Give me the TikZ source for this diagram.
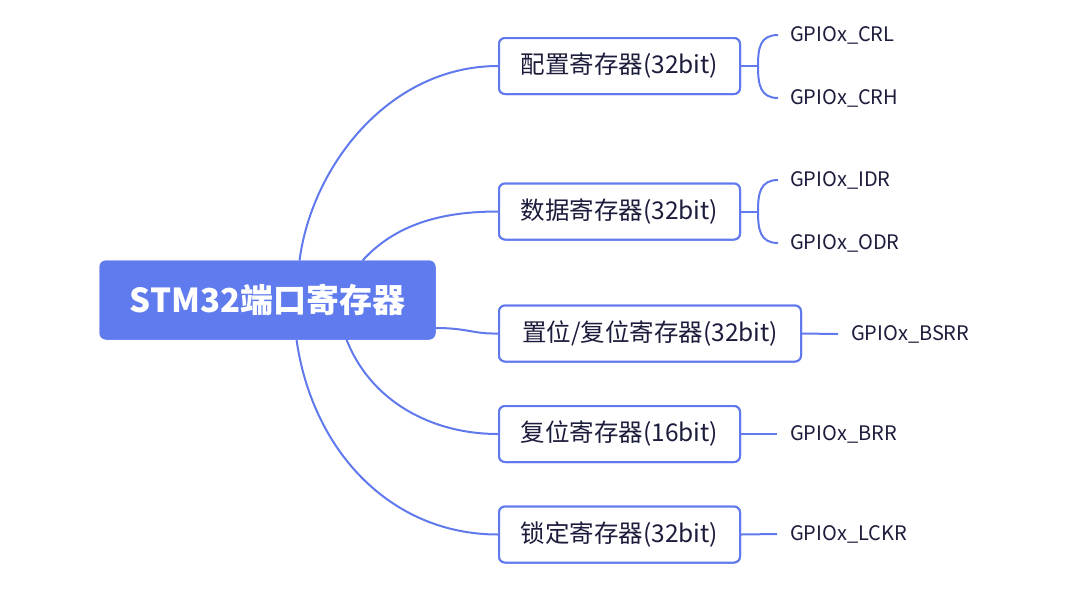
\documentclass[tikz,border=0pt]{standalone}
\usepackage{fontspec}
\setmainfont{Noto Sans CJK SC}
\usetikzlibrary{calc}
\definecolor{mainblue}{HTML}{5F7BEE}
\definecolor{linkblue}{HTML}{6079EC}
\definecolor{txt}{HTML}{1C1C3C}
\tikzset{
  mainbox/.style={draw=mainblue, fill=mainblue, rounded corners=6pt, line width=1pt,
    minimum width=335pt, minimum height=78pt, inner sep=0pt,
    text=white, font=\fontsize{33}{38}\selectfont\bfseries},
  subbox/.style={draw=linkblue, fill=white, rounded corners=6pt, line width=2pt,
    minimum width=241pt, minimum height=56pt, inner sep=0pt,
    text=txt, font=\fontsize{24.5}{28}\selectfont},
  leaf/.style={anchor=west, inner sep=0pt, text=txt, font=\fontsize{20}{23}\selectfont},
  link/.style={draw=linkblue, line width=2pt},
}
\begin{document}
\begin{tikzpicture}[x=1pt,y=-1pt]
\useasboundingbox (0,0) rectangle (1081,598);
% nodes
\node[mainbox] (main) at (267.5,300) {STM32端口寄存器};
\node[subbox] (b1) at (619.5,66) {配置寄存器(32bit)};
\node[subbox] (b2) at (619.5,211.5) {数据寄存器(32bit)};
\node[subbox, minimum width=302pt] (b3) at (650,333.5) {置位/复位寄存器(32bit)};
\node[subbox] (b4) at (619.5,434) {复位寄存器(16bit)};
\node[subbox] (b5) at (619.5,534.5) {锁定寄存器(32bit)};
\node[leaf] (l1a) at (790,35) {GPIOx\_CRL};
\node[leaf] (l1b) at (790,98) {GPIOx\_CRH};
\node[leaf] (l2a) at (790,180) {GPIOx\_IDR};
\node[leaf] (l2b) at (790,243) {GPIOx\_ODR};
\node[leaf] (l3) at (851,334) {GPIOx\_BSRR};
\node[leaf] (l4) at (790,434) {GPIOx\_BRR};
\node[leaf] (l5) at (790,534) {GPIOx\_LCKR};
% main connectors
\draw[link] ($(main.north west)+(200,0)$) .. controls (312,165) and (390,66) .. (b1.west);
\draw[link] ($(main.north west)+(263,0)$) .. controls (395,225) and (440,211.5) .. (b2.west);
\draw[link] ($(main.east)+(0,28)$) .. controls (468,328) and (472,334) .. (b3.west);
\draw[link] ($(main.south west)+(247,0)$) .. controls (370,400) and (430,434) .. (b4.west);
\draw[link] ($(main.south west)+(197,0)$) .. controls (312,450) and (390,534.5) .. (b5.west);
% redraw nodes on top
\node[mainbox] at (main) {STM32端口寄存器};
\node[subbox] at (b1) {配置寄存器(32bit)};
\node[subbox] at (b2) {数据寄存器(32bit)};
\node[subbox, minimum width=302pt] at (b3) {置位/复位寄存器(32bit)};
\node[subbox] at (b4) {复位寄存器(16bit)};
\node[subbox] at (b5) {锁定寄存器(32bit)};
% leaf connectors
\coordinate (k1) at ($(b1.east)+(17,0)$);
\draw[link] (b1.east) -- (k1);
\draw[link] ($(l1a.west)+(-12,0)$) .. controls ($(l1a.west)+(-30,0)$) and ($(k1)+(0,-18)$) .. (k1)
  .. controls ($(k1)+(0,18)$) and ($(l1b.west)+(-30,0)$) .. ($(l1b.west)+(-12,0)$);
\coordinate (k2) at ($(b2.east)+(17,0)$);
\draw[link] (b2.east) -- (k2);
\draw[link] ($(l2a.west)+(-12,0)$) .. controls ($(l2a.west)+(-30,0)$) and ($(k2)+(0,-18)$) .. (k2)
  .. controls ($(k2)+(0,18)$) and ($(l2b.west)+(-30,0)$) .. ($(l2b.west)+(-12,0)$);
\draw[link] (b3.east) -- ($(l3.west)+(-13,0)$);
\draw[link] (b4.east) -- ($(l4.west)+(-13,0)$);
\draw[link] (b5.east) -- ($(l5.west)+(-13,0)$);
\end{tikzpicture}
\end{document}
